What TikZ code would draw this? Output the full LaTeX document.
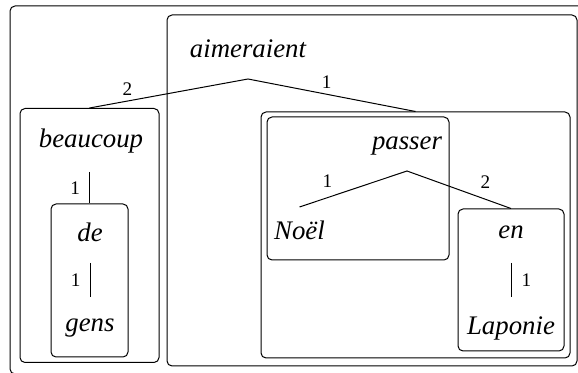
\documentclass[tikz,border=0pt]{standalone}
\usepackage{fontspec}
\setmainfont{Liberation Serif}
\begin{document}
\begin{tikzpicture}[x=0.5pt,y=-0.5pt,
  word/.style={font=\fontsize{13.4}{16}\selectfont\itshape,anchor=base,inner sep=1pt},
  wbox/.style={draw,rounded corners=2.5pt,line width=0.5pt,inner sep=0pt},
  lbl/.style={font=\fontsize{9.6}{11}\selectfont,inner sep=2.5pt},
  link/.style={line width=0.5pt}]
  \useasboundingbox (0,0) rectangle (578,373);
  \clip (0,0) rectangle (578,373);

  % Outer frame, cut by the page
  \draw[rounded corners=2.5pt,line width=0.5pt] (10,6) rectangle (600,374);

  % Boxes
  \node[wbox,minimum width=205pt,minimum height=175.5pt] (aimBox) at (372,190.5) {};
  \node[wbox,minimum width=69.5pt,minimum height=127pt] (beauBox) at (89.5,235.5) {};
  \node[wbox,minimum width=38.5pt,minimum height=76.5pt] (deBox) at (89.5,280.5) {};
  \node[wbox,minimum width=154.5pt,minimum height=123pt] (grpBox) at (415.5,235) {};
  \node[wbox,minimum width=91pt,minimum height=71.5pt] (passBox) at (358,188.5) {};
  \node[wbox,minimum width=53pt,minimum height=71pt] (enBox) at (511,280) {};

  % Words
  \node[word] (aim) at (248,58) {aimeraient};
  \node[word] (beau) at (91,148) {beaucoup};
  \node[word] (de) at (90,242) {de};
  \node[word] (gens) at (90,332) {gens};
  \node[word] (pass) at (407,150) {passer};
  \node[word] (noel) at (299.5,240) {Noël};
  \node[word] (en) at (511,239) {en};
  \node[word] (lap) at (511,335) {Laponie};

  % Junctions
  \coordinate (aimJ) at ([yshift=-10.5pt]aim.base);
  \coordinate (passJ) at ([yshift=-10.5pt]pass.base);
  \coordinate (beauLow) at ([yshift=-12pt]beau.base);
  \coordinate (beauJ) at (deBox.north |- beauLow);

  \draw[link] (beauBox.north) -- (aimJ) -- (grpBox.north);
  \path (aimJ) -- (beauBox.north) node[lbl,pos=0.76,above] {2};
  \path (aimJ) -- (grpBox.north) node[lbl,pos=0.47,above] {1};

  \draw[link] ([yshift=16.5pt]noel.base) -- (passJ) -- (enBox.north);
  \path (passJ) -- ([yshift=16.5pt]noel.base) node[lbl,pos=0.74,above=2.5pt] {1};
  \path (passJ) -- (enBox.north) node[lbl,pos=0.755,above=2.5pt] {2};

  \draw[link] (beauJ) -- (deBox.north)
    node[lbl,midway,left=2pt] {1};
  \draw[link] ([yshift=-10.5pt]de.base) -- ([yshift=17.5pt]gens.base)
    node[lbl,midway,left=2pt] {1};
  \draw[link] ([yshift=-12pt]en.base) -- ([yshift=19pt]lap.base)
    node[lbl,midway,right=2.5pt] {1};
\end{tikzpicture}
\end{document}
